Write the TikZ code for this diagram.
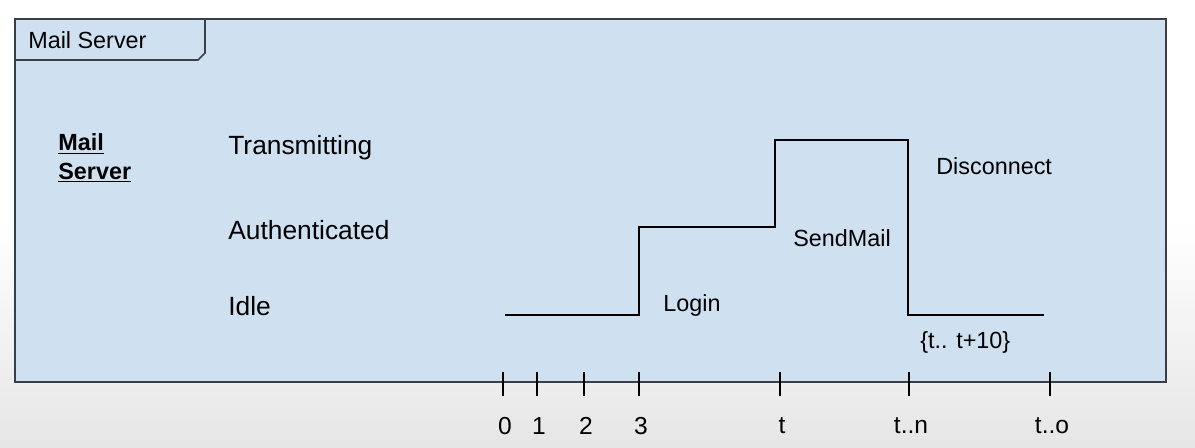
\documentclass[tikz,border=0pt]{standalone}
\usepackage{fontspec}
\setmainfont{Liberation Sans}
\usetikzlibrary{calc}
\definecolor{panelblue}{HTML}{CFE0F1}
\definecolor{framegray}{HTML}{3A3F47}
\tikzstyle{statelabel}=[anchor=west,inner sep=0pt,font=\fontsize{15}{17}\selectfont]
\tikzstyle{eventlabel}=[anchor=west,inner sep=0pt,font=\fontsize{13.3}{16}\selectfont]
\tikzstyle{ticklabel}=[inner sep=0pt,font=\fontsize{14}{16}\selectfont]
\tikzstyle{signal} = [draw,line width=1.6pt]
\tikzstyle{tick} = [draw,line width=1.3pt]

\begin{document}
\begin{tikzpicture}[x=0.02cm,y=-0.02cm]

    % background and frame
    \shade[top color=white,bottom color=black!10,middle color=white] (0,0) rectangle (1195,447);
    \useasboundingbox (0,0) rectangle (1195,447);
    \draw[fill=panelblue,draw=framegray,line width=1.2pt] (15,19) rectangle (1166,382);
    \draw[fill=panelblue,draw=framegray,line width=0.9pt] (15,19) -- (205,19) -- (205,53) -- (198,60) -- (15,60) -- cycle;
    \node[eventlabel] (title) at (28,40) {Mail Server};

    % lane and state labels
    \node[anchor=north west,inner sep=0pt,align=left,font=\fontsize{13.3}{16.4}\selectfont\bfseries] (lane) at (58,133) {\underline{Mail}\\\underline{Server}};
    \foreach \pos/\name/\lbl in {{(228,148)/trans/Transmitting}, {(228,230)/auth/Authenticated}, {(228,306)/idle/Idle}}
        \node[statelabel] (\name) at \pos {\lbl};

    % waveform corners
    \coordinate (w0) at (505,315);
    \coordinate (w1) at (639,315);
    \coordinate (w2) at (639,227);
    \coordinate (w3) at (775,227);
    \coordinate (w4) at (775,140);
    \coordinate (w5) at (908,140);
    \coordinate (w6) at (908,315);
    \coordinate (w7) at (1044,315);
    \path[signal] (w0) -- (w1) -- (w2) -- (w3) -- (w4) -- (w5) -- (w6) -- (w7);

    % events
    \node[eventlabel] (login) at (663,305) {Login};
    \node[eventlabel] (send) at (793,238) {SendMail};
    \node[eventlabel] (disc) at (936,166) {Disconnect};
    \node[eventlabel] (wait) at (920,342) {\{t.. t+10\}};

    % time axis
    \foreach \x/\name/\lbl in {503/t0/0, 537/t1/1, 584/t2/2, 639/t3/3, 780/tt/t, 909/tn/t..n, 1050/to/t..o} {
        \coordinate (\name top) at (\x,372);
        \coordinate (\name bot) at (\x,396);
        \path[tick] (\name top) -- (\name bot);
        \node[ticklabel] (\name lab) at (\x+2,426) {\lbl};
    }

\end{tikzpicture}
\end{document}
